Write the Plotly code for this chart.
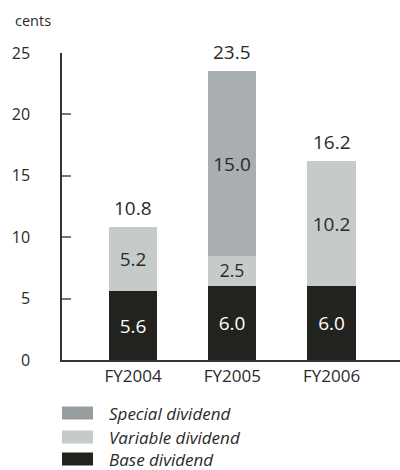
import plotly.graph_objects as go

years = ["FY2004", "FY2005", "FY2006"]
base = [5.6, 6.0, 6.0]
variable = [5.2, 2.5, 10.2]
special = [0.0, 15.0, 0.0]
totals = [10.8, 23.5, 16.2]
y_ticks = [0, 5, 10, 15, 20, 25]

series = [
    ("Base dividend", base, "#22231f", "#ffffff", "#22231f"),
    ("Variable dividend", variable, "#c6cbca", "#2a2a2a", "#c6cbca"),
    ("Special dividend", special, "#a9aeb1", "#2a2a2a", "#989da0"),
]

FONT = "Open Sans, Noto Sans, sans-serif"
TEXT = "#2a2a2a"

fig = go.Figure()
for name, vals, color, txtcolor, _ in series:
    fig.add_trace(go.Bar(
        x=years, y=vals, name=name,
        marker=dict(color=color, line=dict(width=0)),
        text=[f"{v:.1f}" if v > 0 else "" for v in vals],
        textposition="inside", insidetextanchor="middle",
        textfont=dict(family=FONT, size=19, color=txtcolor),
        width=0.485, showlegend=False, hoverinfo="skip",
    ))

# totals above each stack
for yr, t in zip(years, totals):
    fig.add_annotation(x=yr, y=t, text=f"{t:.1f}", showarrow=False,
                       yanchor="bottom", yshift=4,
                       font=dict(family=FONT, size=19, color=TEXT))

# unit label
fig.add_annotation(xref="paper", yref="paper", x=-0.145, y=1.07,
                   xanchor="left", yanchor="bottom", text="cents",
                   showarrow=False,
                   font=dict(family=FONT, size=14.5, color=TEXT))

# legend block drawn below the axis (plot area: 338 x 307 px)
PW, PH = 338, 307
legend_rows = [series[2], series[1], series[0]]
row_y = [413, 437, 459]
for (name, _, _, _, swatch), yc in zip(legend_rows, row_y):
    fig.add_shape(type="rect", xref="paper", yref="paper",
                  x0=0, x1=31 / PW,
                  y0=(360 - (yc + 6.5)) / PH, y1=(360 - (yc - 6.5)) / PH,
                  fillcolor=swatch, line=dict(width=0))
    fig.add_annotation(xref="paper", yref="paper", x=46 / PW,
                       y=(360 - yc) / PH, xanchor="left", yanchor="middle",
                       text=f"<i>{name}</i>", showarrow=False, borderpad=0,
                       font=dict(family=FONT, size=17, color=TEXT))

fig.update_layout(
    width=400, height=470,
    margin=dict(l=62, r=0, t=53, b=110),
    barmode="stack", bargap=0,
    plot_bgcolor="white", paper_bgcolor="white",
    font=dict(family=FONT, color=TEXT),
    xaxis=dict(range=[-0.717, 2.69], showline=True, linecolor="#333333",
               linewidth=1.5, ticks="", showgrid=False,
               tickfont=dict(size=17, color=TEXT)),
    yaxis=dict(range=[0, 25], tickvals=y_ticks, showline=True,
               linecolor="#333333", linewidth=1.5, ticks="inside",
               ticklen=9, tickcolor="#777777", tickwidth=1.5,
               showgrid=False, zeroline=False, ticklabelstandoff=27,
               tickfont=dict(size=16, color=TEXT)),
)

fig.write_html("out.html")
